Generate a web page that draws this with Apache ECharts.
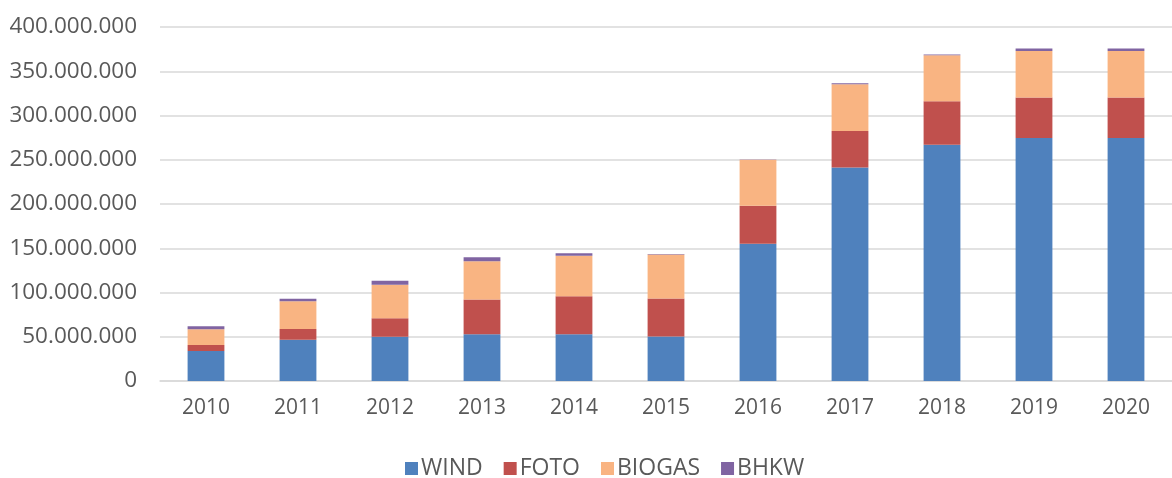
<!DOCTYPE html>
<html>
<head>
<meta charset="utf-8">
<script src="https://cdn.jsdelivr.net/npm/echarts@6/dist/echarts.min.js"></script>
<style>
    html, body { margin: 0; padding: 0; background: #fff; }
    #chart { width: 1172px; height: 478px; }
</style>
</head>
<body>
<div id="chart"></div>
<script>
var years = ['2010', '2011', '2012', '2013', '2014', '2015', '2016', '2017', '2018', '2019', '2020'];
var wind = [33900000, 46700000, 50100000, 52700000, 52700000, 50400000, 155100000, 241300000, 266900000, 274500000, 274500000];
var foto = [6800000, 12000000, 20700000, 39500000, 43200000, 42900000, 42900000, 41100000, 49300000, 45800000, 45800000];
var biogas = [17700000, 31300000, 38000000, 43200000, 45600000, 49700000, 51900000, 53000000, 51900000, 52700000, 52700000];
var bhkw = [3400000, 3000000, 4500000, 4500000, 2900000, 500000, 300000, 1100000, 800000, 2600000, 2600000];
var yTicks = [0, 50000000, 100000000, 150000000, 200000000, 250000000, 300000000, 350000000, 400000000];

var chart = echarts.init(document.getElementById('chart'));

// Punkt als Tausendertrenner
function fmt(v) {
    return String(v).replace(/\B(?=(\d{3})+(?!\d))/g, '.');
}

function bar(name, data, color) {
    return {
        name: name,
        type: 'bar',
        stack: 'total',
        barWidth: '40%',
        data: data,
        itemStyle: { color: color }
    };
}

var option = {
    animation: false,
    textStyle: { fontFamily: 'Open Sans' },
    grid: { left: 160, right: -5, top: 27, bottom: 97, containLabel: false },
    legend: {
        left: 400,
        top: 452,
        itemWidth: 13,
        itemHeight: 13,
        itemGap: 21,
        icon: 'rect',
        textStyle: { color: '#595959', fontSize: 23, fontFamily: 'Open Sans', padding: [0, 0, 0, -2] },
        data: ['WIND', 'FOTO', 'BIOGAS', 'BHKW']
    },
    xAxis: {
        type: 'category',
        data: years,
        axisTick: { show: false },
        axisLine: { lineStyle: { color: '#d9d9d9', width: 1.5 } },
        axisLabel: { color: '#595959', fontSize: 21, margin: 17 }
    },
    yAxis: {
        type: 'value',
        min: yTicks[0],
        max: yTicks[yTicks.length - 1],
        interval: yTicks[1] - yTicks[0],
        axisLine: { show: false },
        axisTick: { show: false },
        splitLine: { lineStyle: { color: '#d9d9d9', width: 1.5 } },
        axisLabel: { color: '#595959', fontSize: 22.5, margin: 23, formatter: fmt }
    },
    series: [
        bar('WIND', wind, '#4f81bd'),
        bar('FOTO', foto, '#c0504d'),
        bar('BIOGAS', biogas, '#f9b482'),
        bar('BHKW', bhkw, '#8064a2')
    ]
};
chart.setOption(option, true);
</script>
</body>
</html>
